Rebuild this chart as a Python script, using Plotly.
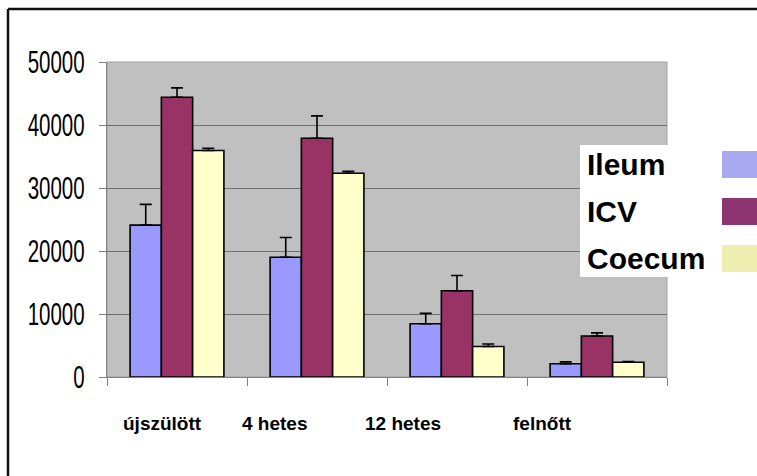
import plotly.graph_objects as go

# Age groups and tissue series
categories = ["újszülött", "4 hetes", "12 hetes", "felnőtt"]
series_names = ["Ileum", "ICV", "Coecum"]
ileum = [24100, 19000, 8450, 2100]
icv = [44400, 37900, 13700, 6500]
coecum = [35950, 32350, 4850, 2350]
ileum_err = [3300, 3150, 1650, 300]
icv_err = [1500, 3550, 2400, 500]
coecum_err = [350, 300, 400, 100]
y_ticks = [0, 10000, 20000, 30000, 40000, 50000]

bar_colors = ["#9999FF", "#993366", "#FFFFCC"]
key_colors = ["#A9A9F2", "#8E3470", "#EEEEB0"]

W, H = 757, 476
L, R, T, B = 107, 90, 62, 99
PW, PH = W - L - R, H - T - B


def px(x):
    return (x - L) / PW


def py(y):
    return (H - B - y) / PH


fig = go.Figure()
for name, vals, errs, col in zip(series_names, [ileum, icv, coecum],
                                 [ileum_err, icv_err, coecum_err], bar_colors):
    fig.add_trace(go.Bar(
        x=categories, y=vals, name=name,
        marker=dict(color=col, line=dict(color="#000000", width=1.6)),
        error_y=dict(type="data", symmetric=False, array=errs,
                     arrayminus=[0] * len(errs), color="#000000",
                     thickness=1.6, width=6),
        showlegend=False,
    ))

shapes = [
    # plot-area frame
    dict(type="rect", xref="paper", yref="paper", x0=0, x1=1, y0=0, y1=1,
         line=dict(color="#A0A0A0", width=1), layer="below"),
    # outer frame (top and left edges)
    dict(type="line", xref="paper", yref="paper", x0=px(8), x1=px(760),
         y0=py(9), y1=py(9), line=dict(color="#111111", width=2.5)),
    dict(type="line", xref="paper", yref="paper", x0=px(8), x1=px(8),
         y0=py(9), y1=py(480), line=dict(color="#111111", width=2.5)),
    # key box
    dict(type="rect", xref="paper", yref="paper", x0=px(580), x1=px(770),
         y0=py(277), y1=py(145), fillcolor="#FFFFFF", line=dict(width=0),
         layer="above"),
]

annotations = []
key_rows = [(151, 178), (198, 225), (245, 272)]
for name, col, (y0, y1) in zip(series_names, key_colors, key_rows):
    shapes.append(dict(type="rect", xref="paper", yref="paper",
                       x0=px(722), x1=px(770), y0=py(y1), y1=py(y0),
                       fillcolor=col, line=dict(width=0), layer="above"))
    annotations.append(dict(
        text="<b>%s</b>" % name, xref="paper", yref="paper",
        x=px(585), y=py((y0 + y1) / 2), xanchor="left", yanchor="middle",
        showarrow=False,
        font=dict(family="Liberation Sans, Arial", size=30, color="#000000"),
    ))

# category labels under the axis
label_shift = [-15, -43, -54, -55]
for cat, sh in zip(categories, label_shift):
    annotations.append(dict(
        text="<b>%s</b>" % cat, xref="x", yref="paper", x=cat,
        y=py(423), xshift=sh, xanchor="center", yanchor="middle",
        showarrow=False,
        font=dict(family="Liberation Sans, Arial", size=19, color="#000000"),
    ))

fig.update_layout(
    width=W, height=H,
    margin=dict(l=L, r=R, t=T, b=B, pad=0, autoexpand=False),
    paper_bgcolor="#FFFFFF", plot_bgcolor="#C0C0C0",
    barmode="group", bargap=0.33, bargroupgap=0,
    shapes=shapes, annotations=annotations,
    xaxis=dict(
        automargin=False,
        showticklabels=False, tickson="boundaries", ticks="outside",
        ticklen=8, tickcolor="#808080", tickwidth=1,
        showline=True, linecolor="#808080", linewidth=1,
        showgrid=False, zeroline=False,
    ),
    yaxis=dict(
        automargin=False,
        range=[0, 50000], tickvals=y_ticks,
        ticktext=[str(v) for v in y_ticks],
        ticks="outside", ticklen=7, tickcolor="#808080",
        showline=True, linecolor="#808080", linewidth=1,
        showgrid=True, gridcolor="#707070", gridwidth=1,
        zeroline=False,
        tickfont=dict(family="Liberation Sans, Arial", size=32, color="#000000"),
        ticklabelstandoff=8,
    ),
)

# Narrow the value-axis numerals horizontally, anchored at their right edge.
condense_ticks = """
var gd = document.getElementsByClassName('plotly-graph-div')[0];
function condense() {
  gd.querySelectorAll('.ytick text').forEach(function (t) {
    if (t.getAttribute('data-condensed')) return;
    var x = parseFloat(t.getAttribute('x')) || 0;
    var tr = t.getAttribute('transform') || '';
    t.setAttribute('transform', tr + ' translate(' + x + ',0) scale(0.64,1) translate(' + (-x) + ',0)');
    t.setAttribute('data-condensed', '1');
  });
}
condense();
gd.on('plotly_afterplot', condense);
"""

fig.write_html("out.html", post_script=condense_ticks)
